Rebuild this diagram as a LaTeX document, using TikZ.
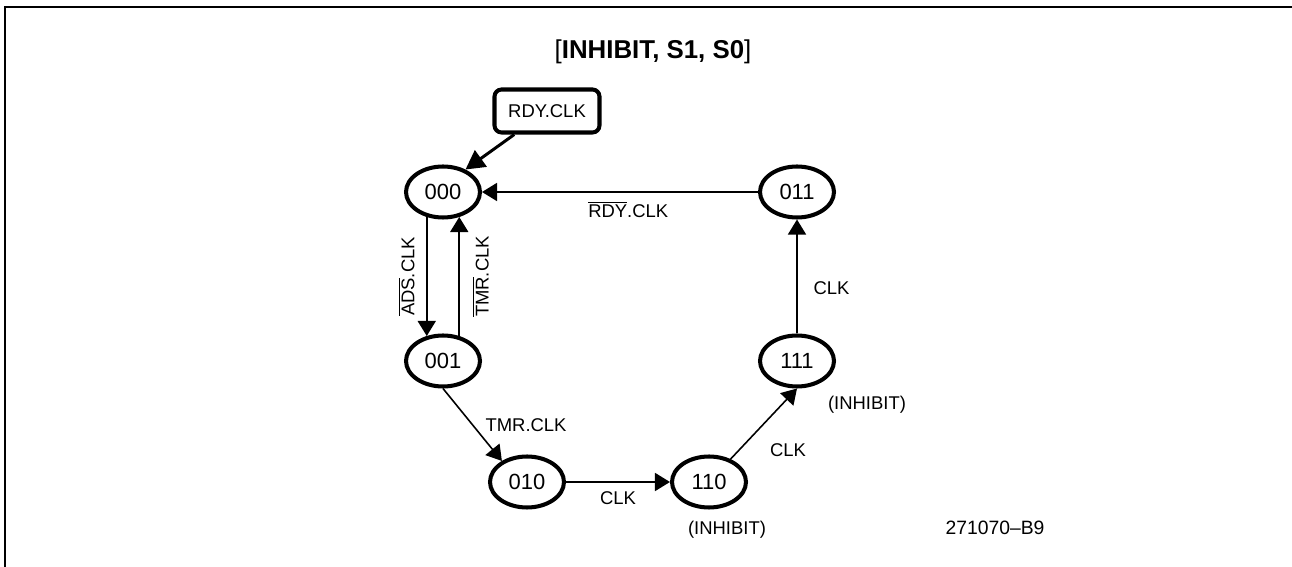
\documentclass[tikz,border=0pt]{standalone}
\usepackage{fontspec}
\setmainfont{Liberation Sans}
\usetikzlibrary{shapes.geometric, arrows.meta, positioning}
\newcommand{\lowact}[1]{$\overline{\mbox{#1}}$}

\begin{document}
\begin{tikzpicture}[
    x=0.02cm, y=-0.02cm,
    >=Stealth,
    phase/.style={
        ellipse,
        draw=black,
        line width=2.3pt,
        minimum width=1.48cm,
        minimum height=1.02cm,
        inner sep=0pt,
        font=\fontsize{12.5}{14}\selectfont
    },
    every edge/.style={draw=black, line width=0.9pt, -{Triangle[length=0.3cm, width=0.36cm]}},
    cond/.style={font=\fontsize{10.5}{12}\selectfont, inner sep=2pt},
    entry/.style={
        draw=black,
        line width=2.3pt,
        rounded corners=4pt,
        minimum width=2.1cm,
        minimum height=0.86cm,
        font=\fontsize{10.5}{12}\selectfont
    }
]
\useasboundingbox (0,0) rectangle (1292,567);

% frame
\draw[line width=1.7pt] (5,567) -- (5,7) -- (1292,7);

\node (title) at (653,52) {\fontsize{14.7}{17}\selectfont[\textbf{INHIBIT, S1, S0}]};

\node[entry] (rdy) at (547,111) {RDY.CLK};

\node[phase] (s000) at (443,192) {000};
\node[phase] (s001) at (443,361) {001};
\node[phase] (s010) at (527,482) {010};
\node[phase] (s110) at (709,482) {110};
\node[phase] (s111) at (797,361) {111};
\node[phase] (s011) at (797,192) {011};

\node[cond] (inh110) at (727,530) {(INHIBIT)};
\node[cond] (inh111) at (867,405) {(INHIBIT)};
\node[cond, font=\fontsize{11}{13}\selectfont] (fig) at (995,528) {271070--B9};

% entry
\path (rdy) edge[line width=1.7pt, -{Triangle[length=0.38cm, width=0.4cm]}] (s000.45);

% 000 <-> 001
\path (s000.237) edge node[cond, rotate=90, anchor=south, inner sep=6.5pt] {\lowact{ADS}.CLK} (s001.123);
\path (s001.57) edge node[cond, rotate=90, anchor=north, inner sep=7pt] {\lowact{TMR}.CLK} (s000.303);

% cycle
\path (s001.south) edge node[cond, right=5pt] {TMR.CLK} (s010.140);
\path (s010) edge node[cond, below=3pt] {CLK} (s110);
\path (s110) edge node[cond, pos=0.3, below right=1pt, xshift=8pt] {CLK} (s111.south);
\path (s111) edge node[cond, pos=0.4, right=7pt] {CLK} (s011);
\path (s011) edge node[cond, pos=0.47, below=3pt] {\lowact{RDY}.CLK} (s000);

\end{tikzpicture}
\end{document}
